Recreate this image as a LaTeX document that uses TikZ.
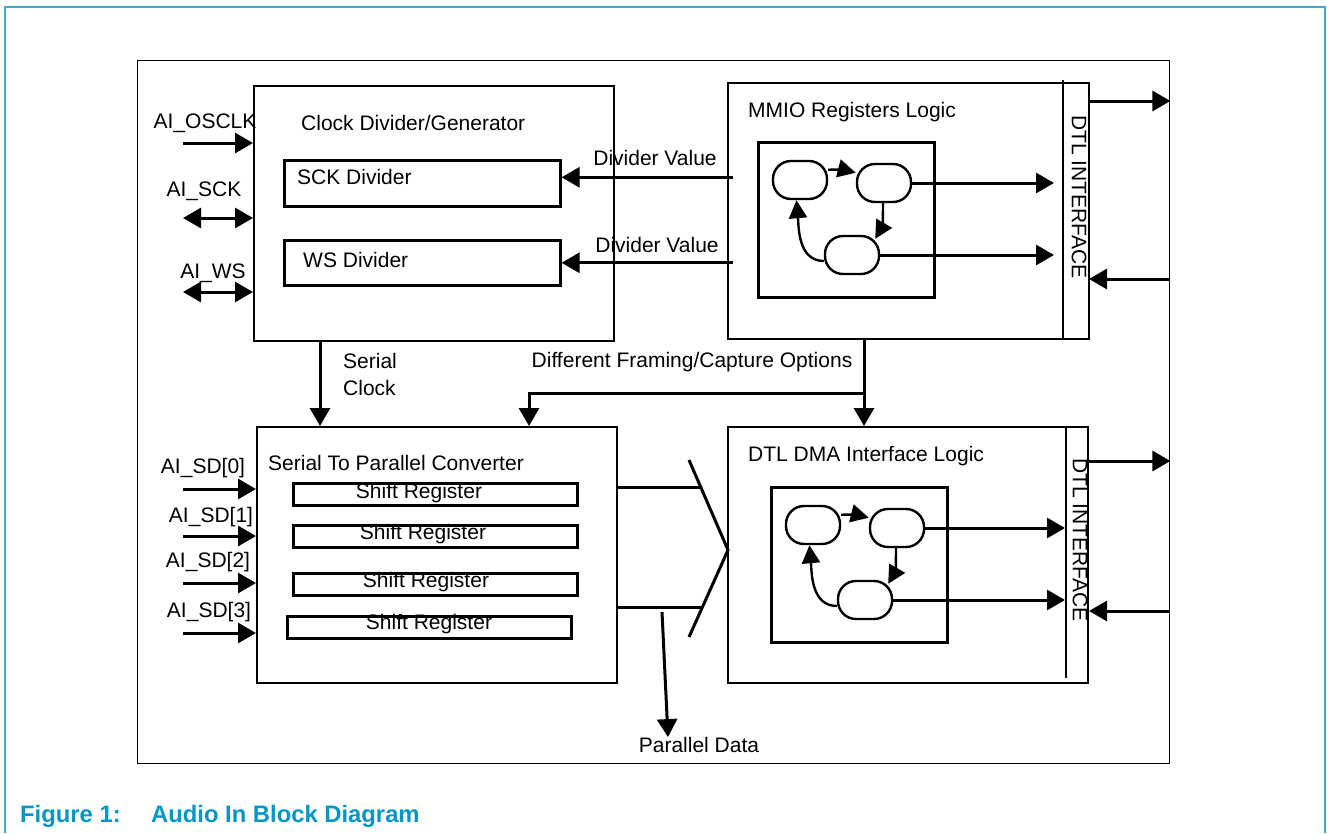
\documentclass[tikz,border=0pt]{standalone}
\usepackage{fontspec}
\setmainfont{Liberation Sans}
\usetikzlibrary{arrows.meta, positioning, calc}
\definecolor{figblue}{RGB}{0,150,200}
\definecolor{frameblue}{RGB}{60,172,202}

\begin{document}
\begin{tikzpicture}[x=1pt, y=-1pt, every node/.style={font=\fontsize{21}{27}\selectfont, inner sep=0pt}]
  \tikzset{
    blockbox/.style={rectangle, draw, line width=1.6pt, anchor=north west},
    regbox/.style={rectangle, draw, line width=2.6pt, anchor=north west},
    fsmstate/.style={rectangle, rounded corners=18pt, draw, line width=2.4pt,
                     minimum width=54pt, minimum height=38pt},
    sig/.style={line width=3pt, -{Triangle[length=18pt, width=20pt]}},
    bisig/.style={line width=3pt, {Triangle[length=18pt, width=20pt]}-{Triangle[length=18pt, width=20pt]}},
    fsmarrow/.style={line width=2.4pt, -{Triangle[length=18pt, width=18pt]}},
    busline/.style={line width=3pt}
  }
  \useasboundingbox (0,0) rectangle (1327,833);
  \draw[frameblue, line width=2pt] (5,833) -- (5,7) -- (1325,7) -- (1325,833);

  \node[blockbox, line width=1.4pt, minimum width=1032pt, minimum height=703pt] (main) at (137,60) {};
  \node[blockbox, minimum width=360pt, minimum height=255pt] (clk) at (253,85) {};
  \node[regbox, minimum width=276pt, minimum height=46pt] (sck) at (283,159) {};
  \node[regbox, minimum width=276pt, minimum height=45pt] (ws) at (283,239) {};
  \node[blockbox, minimum width=361pt, minimum height=256pt] (mmio) at (727,82) {};
  \node[blockbox, minimum width=360pt, minimum height=256pt] (s2p) at (256,426) {};
  \node[blockbox, minimum width=360pt, minimum height=256pt] (dma) at (727,426) {};

  \node[anchor=west] (clkt) at (301,123) {Clock Divider/Generator};
  \node[anchor=west] (sckt) at (297,177) {SCK Divider};
  \node[anchor=west] (wst) at (303,260) {WS Divider};
  \node[anchor=west] (mmiot) at (748,112) {MMIO Registers Logic};
  \node[anchor=west] (s2pt) at (268,463) {Serial To Parallel Converter};
  \node[anchor=west] (dmat) at (748,456) {DTL DMA Interface Logic};

  \draw[line width=1.6pt] (1063,80) -- (1063,338);
  \draw[line width=2.4pt] (1066,428) -- (1066,678);
  \coordinate (m-strip) at (1062,0);
  \coordinate (d-strip) at (1065,0);
  \node[rotate=-90] (mdtl) at (1079,197) {DTL INTERFACE};
  \node[rotate=-90] (ddtl) at (1080,540) {DTL INTERFACE};

  \foreach \p/\sx/\sy/\gap in {m/0/0/8, d/13/345/0} {
    \begin{scope}[shift={(\sx,\sy)}]
      \node[regbox, line width=2.8pt, minimum width=176pt, minimum height=155pt] (\p-fsm) at (757,141) {};
      \node[fsmstate] (\p-s1) at (800,180) {};
      \node[fsmstate] (\p-s2) at (884,183) {};
      \node[fsmstate] (\p-s3) at (852,255) {};
      \draw[fsmarrow] (\p-s1.20) to[bend left=8] (\p-s2.160);
      \draw[fsmarrow] ([xshift=-1pt]\p-s2.south) to[out=-90, in=60] ([xshift=-5pt, yshift=-4pt]\p-s3.north east);
      \draw[fsmarrow] ([yshift=-6pt]\p-s3.west) to[out=180, in=-85] (\p-s1.-100);
      \draw[sig, shorten >=\gap pt] (\p-s2.east) -- (\p-s2.east -| \p-strip);
      \draw[sig, shorten >=\gap pt] (\p-s3.east) -- (\p-s3.east -| \p-strip);
    \end{scope}
  }

  \draw[sig] ([yshift=-19pt]mmio.north east) coordinate (mo) -- (mo -| main.east);
  \coordinate (mi) at (1089,279);
  \draw[sig] (mi -| main.east) -- (mi);
  \draw[sig] ([yshift=-35pt]dma.north east) coordinate (do) -- (do -| main.east);
  \coordinate (di) at (1089,611);
  \draw[sig] (di -| main.east) -- (di);

  \draw[sig] ($(mmio.west |- sck.east)+(6,-6)$) -- ($(sck.east)+(0,-6)$);
  \draw[sig] ($(mmio.west |- ws.east)+(6,0)$) -- (ws.east);
  \node (dv1) at (655,158) {Divider Value};
  \node (dv2) at (657,245) {Divider Value};

  \node (osclk) at (205,123) {AI\_OSCLK};
  \node (sckin) at (204,191) {AI\_SCK};
  \node (wsin) at (213,273) {AI\_WS};
  \foreach \n/\y/\s in {osclk/143/sig, sckin/218/bisig, wsin/292/bisig}
    \draw[\s] (183,\y) coordinate (\n-in) -- (\n-in -| clk.west);

  \foreach \i/\x/\y in {0/203/468, 1/211/517, 2/208/562, 3/209/612}
    \node (sd\i) at (\x,\y) {AI\_SD[\i]};
  \foreach \i/\y in {0/489, 1/536, 2/583, 3/633}
    \draw[sig] (183,\y) coordinate (sd\i-in) -- (sd\i-in -| s2p.west);

  \foreach \i/\x/\y/\tx/\ty in {1/292/482/419/493, 2/292/524/423/534, 3/292/572/426/582, 4/286/615/429/624} {
    \node[regbox, minimum width=284pt, minimum height=22pt] (sr\i) at (\x,\y) {};
    \node (srt\i) at (\tx,\ty) {Shift Register};
  }

  \draw[sig] ([xshift=67pt]clk.south west) coordinate (sc) -- (sc |- s2p.north);
  \node[anchor=north west, align=left] (sclk) at (343,353) {Serial\\Clock};
  \draw[sig] ([xshift=137pt]mmio.south west) coordinate (fo) -- (fo |- dma.north);
  \coordinate (fj) at (864,393);
  \draw[sig] (fj) -| ([xshift=273pt]s2p.north west);
  \node (frm) at (692,362) {Different Framing/Capture Options};

  \draw[busline] (s2p.east |- 0,487) -- (700,487);
  \draw[busline] (s2p.east |- 0,607) -- (703,607);
  \draw[busline] (689,460) -- (728,550) -- (689,637);
  \node (pdata) at (699,745) {Parallel Data};
  \coordinate (pd) at (662,612);
  \draw[sig] (pd) -- ([xshift=-31pt]pdata.north);

  \node[anchor=base west, font=\fontsize{23.8}{28}\selectfont\bfseries, text=figblue] (fig) at (20,822) {Figure 1:};
  \node[anchor=base west, font=\fontsize{23.8}{28}\selectfont\bfseries, text=figblue] (cap) at (151,822) {Audio In Block Diagram};
\end{tikzpicture}
\end{document}
